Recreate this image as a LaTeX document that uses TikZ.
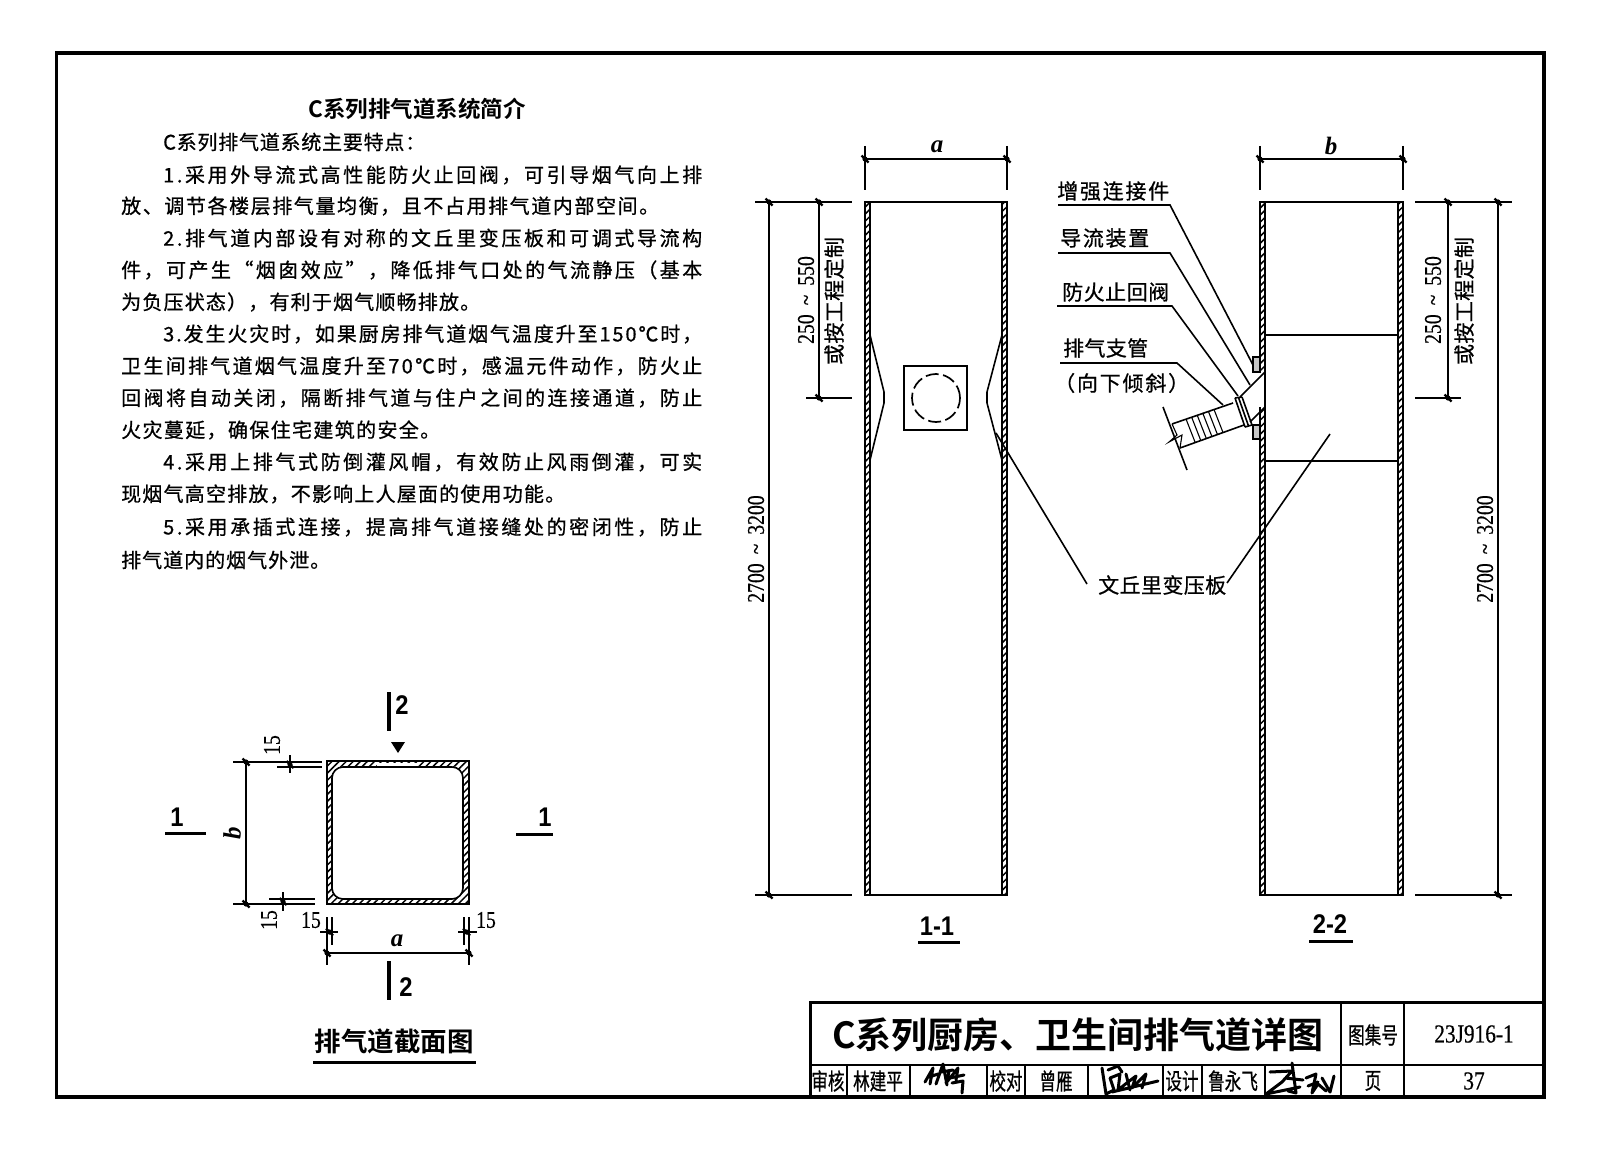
\documentclass[tikz,border=0pt]{standalone}
\usepackage{fontspec}
\usepackage{graphicx}
\usetikzlibrary{patterns.meta}
\setmainfont{Noto Sans CJK SC}[FakeBold=0.7]
\newfontfamily\cjkn{Noto Sans CJK SC}[FakeStretch=0.72,FakeBold=0.7]
\newfontfamily\cjkh{Noto Sans CJK SC Bold}
\newfontfamily\numf{Liberation Serif}[FakeStretch=0.82,FakeBold=0.5]
\newfontfamily\secf{Liberation Sans Bold}[FakeStretch=0.88]
\newfontfamily\itf{Liberation Serif}
\def\sprstart#1{#1\sprrest}
\def\sprrest#1{\ifx#1\relax\else\hfil#1\expandafter\sprrest\fi}
\newcommand\sprbox[2]{\makebox[#1pt][s]{\sprstart#2\relax}}
% name, x, y (centre height), width, text
\newcommand\sline[5]{\node[tline] (#1) at (#2,#3) {\sprbox{#4}{#5}};}
\newcommand\lline[5]{\node[tline,font=\fontsize{21}{21}\selectfont] (#1) at (#2,#3) {\sprbox{#4}{#5}};}
\newcommand\dtick[2]{\fill (#1,#2) circle (2.6pt); \draw[line width=2.2pt] (#1-3.5,#2-3.5)--(#1+3.5,#2+3.5);}
\newcommand\rng[2]{#1\hspace{#2pt}\textasciitilde\hspace{#2pt}}
\tikzset{
  tline/.style={anchor=west,inner sep=0pt,font=\fontsize{20}{20}\selectfont},
  wall/.style={draw=black,line width=1.1pt,pattern={Lines[angle=45,distance=5pt,line width=1.5pt]}},
  thin/.style={line width=1.1pt},
  med/.style={line width=1.6pt},
  dimnum/.style={inner sep=0pt,font=\numf\fontsize{24}{24}\selectfont},
  dimcjk/.style={inner sep=0pt,rotate=90,font=\fontsize{21}{21}\selectfont},
  ital/.style={inner sep=0pt,font=\itf\itshape\bfseries\fontsize{25}{25}\selectfont},
  secnum/.style={inner sep=0pt,font=\secf\fontsize{27}{27}\selectfont},
  tb/.style={inner sep=0pt,font=\cjkn\fontsize{23}{23}\selectfont},
  sig/.style={line width=3pt,line cap=round,line join=round},
}
\begin{document}
\begin{tikzpicture}[x=1pt,y=-1pt]
\useasboundingbox (0,0) rectangle (1600,1150);
\fill[white] (0,0) rectangle (1600,1150);
% frame
\draw[line width=3.5pt] (56.5,53) rectangle (1544,1097);
% ---------- text block
\node[inner sep=0pt,font=\cjkh\fontsize{22.5}{22.5}\selectfont] (ttl) at (417,109) {C系列排气道系统简介};
\sline{l1}{163}{142}{262}{C系列排气道系统主要特点：}
\sline{l2}{163}{175}{539}{1.采用外导流式高性能防火止回阀，可引导烟气向上排}
\sline{l3}{121}{206}{538}{放、调节各楼层排气量均衡，且不占用排气道内部空间。}
\sline{l4}{163}{238}{539}{2.排气道内部设有对称的文丘里变压板和可调式导流构}
\sline{l5}{121}{270}{581}{件，可产生“烟囱效应”，降低排气口处的气流静压（基本}
\sline{l6}{121}{302}{359}{为负压状态），有利于烟气顺畅排放。}
\sline{l7}{163}{334}{539}{3.发生火灾时，如果厨房排气道烟气温度升至150℃时，}
\sline{l8}{121}{366}{581}{卫生间排气道烟气温度升至70℃时，感温元件动作，防火止}
\sline{l9}{121}{398}{581}{回阀将自动关闭，隔断排气道与住户之间的连接通道，防止}
\sline{l10}{121}{430}{319}{火灾蔓延，确保住宅建筑的安全。}
\sline{l11}{163}{462}{539}{4.采用上排气式防倒灌风帽，有效防止风雨倒灌，可实}
\sline{l12}{121}{494}{444}{现烟气高空排放，不影响上人屋面的使用功能。}
\sline{l13}{163}{527}{539}{5.采用承插式连接，提高排气道接缝处的密闭性，防止}
\sline{l14}{121}{560}{209}{排气道内的烟气外泄。}
% ---------- cross section
\path[pattern={Lines[angle=45,distance=5pt,line width=1.5pt]},even odd rule]
  (327,761) rectangle (469,904) {[rounded corners=11pt] (332,767) rectangle (463,899)};
\draw[med] (327,761) rectangle (469,904);
\draw[med,rounded corners=11pt] (332,767) rectangle (463,899);
\fill[white] (377,762.5) rectangle (418,766);
% dims of section
\draw[thin] (246,762)--(246,904);
\draw[thin] (233,762)--(322,762) (277,767)--(322,767) (290,755)--(290,773);
\draw[thin] (233,904)--(315,904) (269,899)--(315,899) (283,892)--(283,911);
\dtick{246}{762}\dtick{246}{904}\dtick{290}{764.5}\dtick{283}{901.5}
\draw[thin] (327,917)--(327,965) (332,917)--(332,945) (320,932)--(338,932);
\draw[thin] (469,917)--(469,965) (464,917)--(464,945) (458,932)--(477,932);
\draw[thin] (327,953)--(469,953);
\dtick{327}{953}\dtick{469}{953}\dtick{329.5}{932}\dtick{466.5}{932}
\node[dimnum,rotate=90] (d15a) at (272,745) {15};
\node[dimnum,rotate=90] (d15b) at (269,920) {15};
\node[dimnum] (d15c) at (311,920) {15};
\node[dimnum] (d15d) at (486,920) {15};
\node[ital,rotate=90] (bs) at (232,833) {b};
\node[ital] (as) at (397,941) {a};
\draw[line width=3.4pt] (389,692)--(389,731);
\node[secnum] (s2a) at (402,705) {2};
\fill (391,742)--(405,742)--(398,753)--cycle;
\draw[line width=3.4pt] (389,961)--(389,1000);
\node[secnum] (s2b) at (406,987) {2};
\node[secnum] (s1a) at (177,817) {1};
\draw[line width=3pt] (165,833)--(206,833);
\node[secnum] (s1b) at (545,817) {1};
\draw[line width=3pt] (516,834)--(553,834);
\node[inner sep=0pt,font=\cjkh\fontsize{26.5}{26.5}\selectfont] (sect) at (394,1041) {排气道截面图};
\draw[line width=3pt] (313,1062)--(476,1062);
% ---------- 1-1
\draw[wall] (865,202) rectangle (870,895);
\draw[wall] (1002,202) rectangle (1007,895);
\draw[med] (865,202)--(1007,202) (865,895)--(1007,895);
\draw[med] (870,335)--(884,392)--(884,403)--(870,460);
\draw[med] (1002,335)--(987,392)--(987,403)--(1002,460);
\draw[line width=2pt] (904,366) rectangle (967,430);
\draw[line width=1.7pt,dash pattern=on 13pt off 4.5pt] (936,398) circle (24pt);
\draw[thin] (865,146)--(865,190) (1007,146)--(1007,190) (865,159)--(1007,159);
\dtick{865}{159}\dtick{1007}{159}
\node[ital] (a1) at (937,147) {a};
\draw[thin] (755,202)--(852,202) (806,398)--(852,398) (755,895)--(852,895);
\draw[thin] (769,202)--(769,895) (819,202)--(819,398);
\dtick{769}{202}\dtick{819}{202}\dtick{819}{398}\dtick{769}{895}
\node[dimnum,rotate=90] (h1) at (756,549) {\rng{2700}{9}3200};
\node[dimnum,rotate=90] (r1) at (806,300) {\rng{250}{9}550};
\node[dimcjk] (o1) at (834,301) {\sprbox{128}{或按工程定制}};
\node[secnum] (t11) at (937,926) {1-1};
\draw[line width=3pt] (918,942)--(960,942);
% ---------- 2-2
\draw[wall] (1260,202) rectangle (1265,895);
\draw[wall] (1398,202) rectangle (1403,895);
\draw[med] (1260,202)--(1403,202) (1260,895)--(1403,895);
\draw[med] (1265,335)--(1398,335) (1265,461)--(1398,461);
\draw[thin] (1260,146)--(1260,190) (1403,146)--(1403,190) (1260,159)--(1403,159);
\dtick{1260}{159}\dtick{1403}{159}
\node[ital] (b1) at (1331,146) {b};
\draw[thin] (1415,202)--(1512,202) (1415,398)--(1461,398) (1415,895)--(1512,895);
\draw[thin] (1448,202)--(1448,398) (1498,202)--(1498,895);
\dtick{1448}{202}\dtick{1448}{398}\dtick{1498}{202}\dtick{1498}{895}
\node[dimnum,rotate=90] (h2) at (1485,549) {\rng{2700}{9}3200};
\node[dimnum,rotate=90] (r2) at (1433,300) {\rng{250}{9}550};
\node[dimcjk] (o2) at (1464,301) {\sprbox{128}{或按工程定制}};
\node[secnum] (t22) at (1330,924) {2-2};
\draw[line width=3pt] (1309,941)--(1353,941);
% branch
\fill[white] (1258.5,372) rectangle (1264,407);
\draw[med] (1265,372)--(1240,397) (1265,407)--(1250,422);
\draw[thin,fill=black!22] (1253,357) rectangle (1260,372);
\draw[thin,fill=black!22] (1253,425) rectangle (1260,439);
\draw[med] (1235,398)--(1245,427) (1238.5,397.5)--(1248.5,426) (1242,397)--(1252,425) (1235,398)--(1242,397) (1245,427)--(1252,425);
\draw[med] (1233,403)--(1172,424) (1244,425)--(1180,448);
\foreach \i in {0,...,5} { \draw[thin] (1186+5.6*\i,419-1.9*\i)--(1195+5.6*\i,442-1.9*\i); }
\draw[thin] (1172,424)--(1177,435)--(1169,442)--(1182,435)--(1180,448);
\draw[med] (1163,407)--(1187,470);
% labels & leaders
\lline{n1}{1057}{191}{112}{增强连接件}
\lline{n2}{1060}{238}{89}{导流装置}
\lline{n3}{1062}{292}{107}{防火止回阀}
\lline{n4}{1063}{348}{85}{排气支管}
\lline{n5}{1054}{383}{135}{（向下倾斜）}
\draw[med] (1058,205)--(1170,205)--(1253,365);
\draw[med] (1058,253)--(1170,253)--(1250,385);
\draw[med] (1057,306)--(1172,306)--(1238,396);
\draw[med] (1060,363)--(1177,363)--(1223,405);
\lline{n6}{1098}{585}{128}{文丘里变压板}
\draw[med] (996,433)--(1087,584);
\draw[med] (1330,434)--(1227,583);
% ---------- title block
\draw[line width=3pt] (810,1097)--(810,1002)--(1544,1002);
\draw[line width=2pt] (810,1065)--(1544,1065);
\draw[line width=2pt] (1341,1002)--(1341,1097) (1404,1002)--(1404,1097);
\draw[line width=1.6pt] (847,1065)--(847,1097) (910,1065)--(910,1097) (987,1065)--(987,1097)
  (1025,1065)--(1025,1097) (1088,1065)--(1088,1097) (1163,1065)--(1163,1097)
  (1202,1065)--(1202,1097) (1265,1065)--(1265,1097);
\node[inner sep=0pt,font=\cjkh\fontsize{36}{36}\selectfont] (tbt) at (1078,1035) {C系列厨房、卫生间排气道详图};
\node[tb] (tb1) at (1373,1035) {图集号};
\node[inner sep=0pt,font=\numf\fontsize{26}{26}\selectfont] (tb2) at (1474,1034) {23J916-1};
\node[tb] (tb3) at (1373,1081) {页};
\node[inner sep=0pt,font=\numf\fontsize{26}{26}\selectfont] (tb4) at (1474,1081) {37};
\node[tb] (c1) at (828,1081) {审核};
\node[tb] (c2) at (878,1081) {林建平};
\node[tb] (c3) at (1006,1081) {校对};
\node[tb] (c4) at (1056,1081) {曾雁};
\node[tb] (c5) at (1182,1081) {设计};
\node[tb] (c6) at (1233,1081) {鲁永飞};
% signatures
\draw[sig] (925,1082)--(933,1068)--(930,1084) (929,1077)--(938,1074) (936,1084)--(943,1064)--(947,1085) (941,1072)--(953,1070) (949,1072)--(946,1083)--(958,1068)--(956,1080) (950,1078)--(964,1075) (952,1083)--(963,1081)--(962,1093);
\draw[sig] (1102,1068)--(1106,1094)--(1114,1090)--(1110,1078)--(1120,1074)--(1118,1090)--(1128,1082)--(1136,1076)--(1132,1088)--(1146,1074)--(1142,1088) (1108,1070)--(1118,1066)--(1122,1072) (1126,1074)--(1130,1090) (1112,1092)--(1158,1081);
\draw[sig] (1270,1072)--(1292,1071)--(1282,1082)--(1266,1094)--(1300,1087) (1292,1063)--(1296,1093)--(1288,1091) (1285,1078)--(1303,1080) (1306,1078)--(1316,1074)--(1312,1093)--(1318,1084)--(1326,1091) (1322,1078)--(1330,1092)--(1334,1076) (1308,1086)--(1318,1082);
\end{tikzpicture}
\end{document}
